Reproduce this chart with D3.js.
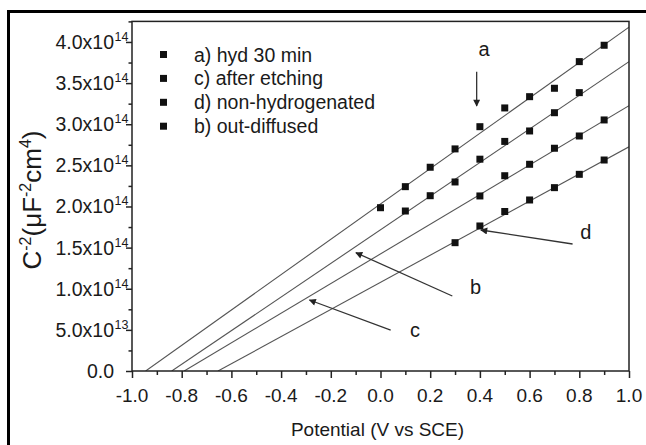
<!DOCTYPE html>
<html lang="en">
<head>
<meta charset="UTF-8">
<title>Mott-Schottky plot</title>
<script src="https://d3js.org/d3.v7.min.js"></script>
<style>
  body { margin: 0; background: #fff; }
  svg text { font-family: "Liberation Sans", Arial, sans-serif; fill: #1a1a1a; }
</style>
</head>
<body>
<svg width="646" height="445"></svg>
<script>
// potential (V vs SCE) and C^-2 values (uF^-2 cm^4)
const potential = [0.0, 0.1, 0.2, 0.3, 0.4, 0.5, 0.6, 0.7, 0.8, 0.9];
const hyd30 =      [1.985e14, 2.241e14, 2.477e14, 2.70e14, 2.97e14, 3.198e14, 3.335e14, 3.437e14, 3.761e14, 3.960e14];
const outDiffused = [null, 1.945e14, 2.131e14, 2.298e14, 2.575e14, 2.791e14, 2.918e14, 3.140e14, 3.384e14, null];
const afterEtching = [null, null, null, null, 2.128e14, 2.374e14, 2.513e14, 2.708e14, 2.857e14, 3.052e14];
const nonHydro =   [null, null, null, 1.560e14, 1.763e14, 1.939e14, 2.079e14, 2.229e14, 2.391e14, 2.565e14];

// fitted lines: x-intercept and value at 1.0 V (a, b, c, d)
const fitZero = [-0.945, -0.84, -0.79, -0.654];
const fitAtOne = [4.18e14, 3.76e14, 3.225e14, 2.726e14];

const legendLabels = ['a) hyd 30 min', 'c) after etching', 'd) non-hydrogenated', 'b) out-diffused'];
const xTicks = [-1.0, -0.8, -0.6, -0.4, -0.2, 0.0, 0.2, 0.4, 0.6, 0.8, 1.0];
const yTicks = [0, 0.5e14, 1e14, 1.5e14, 2e14, 2.5e14, 3e14, 3.5e14, 4e14];
const yTickMant = ['0.0', '5.0x10', '1.0x10', '1.5x10', '2.0x10', '2.5x10', '3.0x10', '3.5x10', '4.0x10'];
const yTickExp = ['', '13', '14', '14', '14', '14', '14', '14', '14'];

const svg = d3.select('svg');
const margin = { top: 21.4, right: 17, bottom: 74, left: 132 };
const width = 646, height = 445;

const x = d3.scaleLinear().domain([-1, 1]).range([margin.left, width - margin.right]);
const y = d3.scaleLinear().domain([0, 4.25e14]).range([height - margin.bottom, margin.top]);

// outer figure frame (left + top visible)
svg.append('path')
    .attr('d', 'M8.5,445 V11.5 H646')
    .attr('fill', 'none').attr('stroke', '#000').attr('stroke-width', 3);

const defs = svg.append('defs');
defs.append('marker').attr('id', 'arr')
    .attr('viewBox', '0 0 10 10').attr('refX', 9).attr('refY', 5)
    .attr('markerWidth', 9).attr('markerHeight', 7).attr('markerUnits', 'userSpaceOnUse')
    .attr('orient', 'auto')
  .append('path').attr('d', 'M0,0 L10,5 L0,10 Z').attr('fill', '#222');

const clip = defs.append('clipPath').attr('id', 'plotclip');
clip.append('rect').attr('x', x(-1)).attr('y', y(4.25e14))
    .attr('width', x(1) - x(-1)).attr('height', y(0) - y(4.25e14));

// fit lines
const fits = fitZero.map((z, i) => [[z, 0], [1.0, fitAtOne[i]]]);
svg.append('g').attr('clip-path', 'url(#plotclip)')
  .selectAll('line.fit').data(fits).enter().append('line')
    .attr('x1', d => x(d[0][0])).attr('y1', d => y(d[0][1]))
    .attr('x2', d => x(d[1][0])).attr('y2', d => y(d[1][1]))
    .attr('stroke', '#555').attr('stroke-width', 1.1);

// data points
const series = [hyd30, outDiffused, afterEtching, nonHydro];
const pts = [];
series.forEach(s => s.forEach((v, i) => { if (v != null) pts.push([potential[i], v]); }));
const sq = 7;
svg.selectAll('rect.pt').data(pts).enter().append('rect')
    .attr('x', d => x(d[0]) - sq / 2).attr('y', d => y(d[1]) - sq / 2)
    .attr('width', sq).attr('height', sq).attr('fill', '#111');

// axes
const axisColor = '#222';
const gx = svg.append('g').attr('transform', `translate(0,${y(0)})`)
    .call(d3.axisBottom(x).tickValues(xTicks).tickSize(7).tickFormat(''));
const gxm = svg.append('g').attr('transform', `translate(0,${y(0)})`)
    .call(d3.axisBottom(x).tickValues(d3.range(-0.9, 1.0, 0.2)).tickSize(4).tickFormat(''));
const gy = svg.append('g').attr('transform', `translate(${x(-1)},0)`)
    .call(d3.axisLeft(y).tickValues(yTicks).tickSize(6).tickFormat(''));
const gym = svg.append('g').attr('transform', `translate(${x(-1)},0)`)
    .call(d3.axisLeft(y).tickValues(d3.range(0.25e14, 4.3e14, 0.5e14)).tickSize(3.5).tickFormat(''));
[gx, gxm, gy, gym].forEach(g => {
  g.selectAll('.domain').remove();
  g.selectAll('line').attr('stroke', axisColor).attr('stroke-width', 1.5);
});
// frame
svg.append('rect').attr('x', x(-1)).attr('y', y(4.25e14))
    .attr('width', x(1) - x(-1)).attr('height', y(0) - y(4.25e14))
    .attr('fill', 'none').attr('stroke', axisColor).attr('stroke-width', 1.5);

// x tick labels
svg.selectAll('text.xt').data(xTicks).enter().append('text')
    .attr('x', d => x(d)).attr('y', y(0) + 31)
    .attr('text-anchor', 'middle').attr('font-size', 19)
    .text(d => d.toFixed(1));

// y tick labels
yTicks.forEach((v, i) => {
  svg.append('text').attr('x', 114).attr('y', y(v) + 7)
      .attr('text-anchor', 'end').attr('font-size', 19.5).text(yTickMant[i]);
  if (yTickExp[i]) {
    svg.append('text').attr('x', 114.5).attr('y', y(v) - 1)
        .attr('font-size', 12.5).text(yTickExp[i]);
  }
});

// axis titles
svg.append('text').attr('x', (x(-1) + x(1)) / 2 - 3).attr('y', 436)
    .attr('text-anchor', 'middle').attr('font-size', 19)
    .text('Potential (V vs SCE)');

const yl = svg.append('text')
    .attr('transform', `translate(41,${200}) rotate(-90)`)
    .attr('text-anchor', 'middle').attr('font-size', 26);
yl.append('tspan').text('C');
yl.append('tspan').attr('dy', -10).attr('font-size', 16).text('-2');
yl.append('tspan').attr('dy', 10).text('(\u03bcF');
yl.append('tspan').attr('dy', -10).attr('font-size', 16).text('-2');
yl.append('tspan').attr('dy', 10).text('cm');
yl.append('tspan').attr('dy', -10).attr('font-size', 16).text('4');
yl.append('tspan').attr('dy', 10).text(')');

// legend
const lg = svg.append('g');
legendLabels.forEach((t, i) => {
  const cy = 54.5 + i * 23.9;
  lg.append('rect').attr('x', 163.5 - sq / 2).attr('y', cy - sq / 2)
      .attr('width', sq).attr('height', sq).attr('fill', '#111');
  lg.append('text').attr('x', 194).attr('y', cy + 7)
      .attr('font-size', 19.5).text(t);
});

// annotations: [label, labelX, labelY, fromX, fromY, toX, toY]
const notes = [
  ['a', 0.417, 3.92e14, 0.387, 3.639e14, 0.387, 3.222e14],
  ['d', 0.826, 1.686e14, 0.773, 1.544e14, 0.404, 1.714e14],
  ['b', 0.383, 1.018e14, 0.289, 0.912e14, -0.099, 1.438e14],
  ['c', 0.139, 0.498e14, 0.041, 0.498e14, -0.286, 0.863e14]
];
notes.forEach(n => {
  svg.append('line')
      .attr('x1', x(n[3])).attr('y1', y(n[4]))
      .attr('x2', x(n[5])).attr('y2', y(n[6]))
      .attr('stroke', '#333').attr('stroke-width', 1.3)
      .attr('marker-end', 'url(#arr)');
  svg.append('text').attr('x', x(n[1])).attr('y', y(n[2]) + 7)
      .attr('text-anchor', 'middle').attr('font-size', 20).text(n[0]);
});
</script>
</body>
</html>
